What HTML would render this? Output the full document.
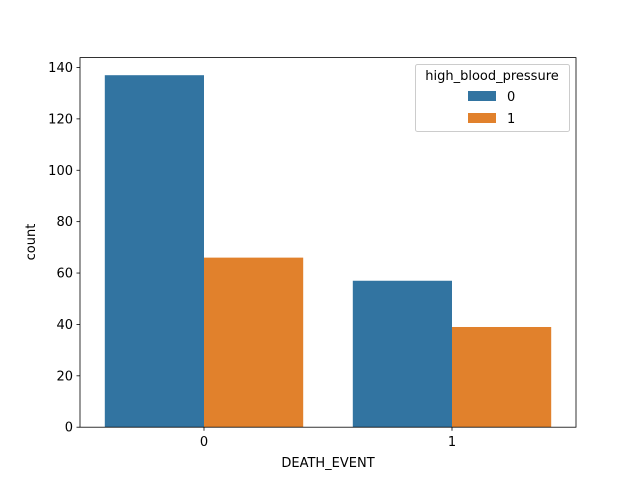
<!DOCTYPE html>
<html><head><meta charset="utf-8"><style>
body{margin:0;background:#fff;}
svg text{font-family:"DejaVu Sans","Liberation Sans",sans-serif;fill:#000;}
</style></head><body>
<svg id="chart" width="640" height="480">
<rect width="640" height="480" fill="#fff"/>
<g id="bars"></g>
<rect x="80" y="57.6" width="496" height="369.6" fill="none" stroke="#000" stroke-width="0.8"/>
<g id="axes"></g>
<text x="328" y="467" font-size="13" text-anchor="middle">DEATH_EVENT</text>
<text transform="translate(35,242) rotate(-90)" font-size="13" text-anchor="middle">count</text>
<g>
<rect x="415.5" y="64.5" width="154" height="67" rx="2" fill="#fff" fill-opacity="0.8" stroke="#ccc"/>
<text x="492" y="80" font-size="13" text-anchor="middle">high_blood_pressure</text>
<rect x="468" y="91" width="28" height="10" fill="#3274a1"/>
<text x="507" y="101" font-size="13">0</text>
<rect x="468" y="113" width="28" height="10" fill="#e1812c"/>
<text x="507" y="123" font-size="13">1</text>
</g>
</svg>
<script>
const categories=["0","1"];
const series0=[137,57];
const series1=[66,39];
const yTicks=[0,20,40,60,80,100,120,140];
const colors=["#3274a1","#e1812c"];
const L=80,R=576,T=57.6,B=427.2,yMax=143.85;
const xs=i=>L+(i+0.5)*(R-L)/categories.length;
const ys=v=>B-v/yMax*(B-T);
const bw=0.4*(R-L)/categories.length;
const NS="http://www.w3.org/2000/svg";
const bars=document.getElementById('bars'),axes=document.getElementById('axes');
[series0,series1].forEach((s,si)=>{s.forEach((v,i)=>{
 const r=document.createElementNS(NS,'rect');
 const x=xs(i)-bw+si*bw;
 r.setAttribute('x',x);r.setAttribute('y',ys(v));r.setAttribute('width',bw);r.setAttribute('height',B-ys(v));r.setAttribute('fill',colors[si]);
 
 
 bars.appendChild(r);});});
yTicks.forEach(t=>{const y=ys(t);
 const l=document.createElementNS(NS,'line');l.setAttribute('x1',L-3.5);l.setAttribute('x2',L);l.setAttribute('y1',y);l.setAttribute('y2',y);l.setAttribute('stroke','#000');l.setAttribute('stroke-width','0.8');
 
 
 axes.appendChild(l);
 const tx=document.createElementNS(NS,'text');tx.setAttribute('x',L-7);tx.setAttribute('y',y+4.5);tx.setAttribute('font-size','13');tx.setAttribute('text-anchor','end');tx.textContent=t;
 
 
 axes.appendChild(tx);});
categories.forEach((c,i)=>{const x=xs(i);
 const l=document.createElementNS(NS,'line');l.setAttribute('x1',x);l.setAttribute('x2',x);l.setAttribute('y1',B);l.setAttribute('y2',B+3.5);l.setAttribute('stroke','#000');l.setAttribute('stroke-width','0.8');
 
 
 axes.appendChild(l);
 const tx=document.createElementNS(NS,'text');tx.setAttribute('x',x);tx.setAttribute('y',B+19);tx.setAttribute('font-size','13');tx.setAttribute('text-anchor','middle');tx.textContent=c;
 
 
 axes.appendChild(tx);});
</script>
</body></html>
